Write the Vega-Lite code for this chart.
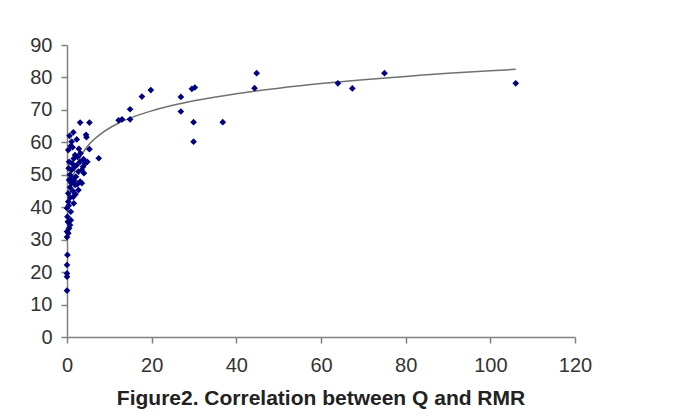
{
  "$schema": "https://vega.github.io/schema/vega-lite/v6.json",
  "autosize": {"type": "none"},
  "padding": {"left": 67, "top": 45, "right": 124, "bottom": 80},
  "width": 508,
  "height": 292,
  "background": "white",
  "config": {
    "view": {"stroke": null},
    "font": "Liberation Sans",
    "axis": {"grid": false, "domainColor": "#808080", "tickColor": "#808080", "labelColor": "#333333", "labelFont": "Liberation Sans", "labelFontSize": 20, "tickSize": 6, "domainWidth": 1.5, "tickWidth": 1.5, "labelOverlap": false, "labelFlush": false}
  },
  "title": {
    "text": "Figure2. Correlation between Q and RMR",
    "orient": "bottom",
    "anchor": "middle",
    "font": "Liberation Sans",
    "fontSize": 21,
    "fontWeight": "bold",
    "color": "#222222",
    "offset": 13
  },
  "datasets": {
    "pts": [
      {"Q": 106, "RMR": 78.2}, {"Q": 64, "RMR": 78.2}, {"Q": 67.4, "RMR": 76.6}, {"Q": 75, "RMR": 81.3},
      {"Q": 44.3, "RMR": 76.7}, {"Q": 44.8, "RMR": 81.3}, {"Q": 36.8, "RMR": 66.2}, {"Q": 29.9, "RMR": 60.2},
      {"Q": 29.9, "RMR": 66.2}, {"Q": 29.5, "RMR": 76.5}, {"Q": 30.2, "RMR": 76.9}, {"Q": 26.9, "RMR": 74.0},
      {"Q": 26.9, "RMR": 69.5}, {"Q": 19.8, "RMR": 76.1}, {"Q": 17.7, "RMR": 74.1}, {"Q": 14.9, "RMR": 70.2},
      {"Q": 14.9, "RMR": 67.1}, {"Q": 12.2, "RMR": 66.8}, {"Q": 13, "RMR": 67.1}, {"Q": 7.5, "RMR": 55.1},
      {"Q": 3.1, "RMR": 66.1}, {"Q": 5.3, "RMR": 66.1}, {"Q": 1.5, "RMR": 63.1}, {"Q": 4.5, "RMR": 62.3},
      {"Q": 4.6, "RMR": 61.6}, {"Q": 1.1, "RMR": 60.2}, {"Q": 2.3, "RMR": 60.9}, {"Q": 0.9, "RMR": 58.9},
      {"Q": 1.3, "RMR": 58.5}, {"Q": 5.3, "RMR": 57.9}, {"Q": 0.3, "RMR": 57.6}, {"Q": 3.2, "RMR": 56.6},
      {"Q": 1.9, "RMR": 56.1}, {"Q": 0.5, "RMR": 54.0}, {"Q": 3.9, "RMR": 54.8}, {"Q": 3.1, "RMR": 54.0},
      {"Q": 4.3, "RMR": 53.5}, {"Q": 2.3, "RMR": 53.0}, {"Q": 3.5, "RMR": 51.5}, {"Q": 1.1, "RMR": 51.5},
      {"Q": 2.7, "RMR": 51.0}, {"Q": 0.7, "RMR": 50.0}, {"Q": 2.1, "RMR": 49.4}, {"Q": 0.5, "RMR": 48.4},
      {"Q": 3.1, "RMR": 47.9}, {"Q": 3.5, "RMR": 47.4}, {"Q": 1.9, "RMR": 46.9}, {"Q": 0.7, "RMR": 46.1},
      {"Q": 2.7, "RMR": 45.3}, {"Q": 0.3, "RMR": 44.3}, {"Q": 1.5, "RMR": 43.2}, {"Q": 0.3, "RMR": 41.7},
      {"Q": 1.6, "RMR": 41.2}, {"Q": 0.0, "RMR": 39.7}, {"Q": 0.9, "RMR": 38.6}, {"Q": 0.1, "RMR": 37.1},
      {"Q": 0.2, "RMR": 35.5}, {"Q": 0.7, "RMR": 34.5}, {"Q": 0.0, "RMR": 32.5}, {"Q": 0.3, "RMR": 32.0},
      {"Q": 0.0, "RMR": 30.8}, {"Q": 0.1, "RMR": 25.3}, {"Q": 0.0, "RMR": 22.2}, {"Q": 0.0, "RMR": 19.6},
      {"Q": 0.0, "RMR": 18.6}, {"Q": 0.0, "RMR": 14.3},
      {"Q": 1.2, "RMR": 49.0}, {"Q": 1.8, "RMR": 52.5}, {"Q": 2.5, "RMR": 55.5}, {"Q": 1.0, "RMR": 47.5},
      {"Q": 1.4, "RMR": 45.0}, {"Q": 0.8, "RMR": 43.0}, {"Q": 0.4, "RMR": 40.5}, {"Q": 1.2, "RMR": 53.5},
      {"Q": 4.0, "RMR": 50.5}, {"Q": 2.8, "RMR": 58.0}, {"Q": 0.6, "RMR": 62.0}, {"Q": 1.7, "RMR": 48.2},
      {"Q": 0.9, "RMR": 36.0}, {"Q": 0.5, "RMR": 33.5}, {"Q": 2.0, "RMR": 44.0}, {"Q": 2.4, "RMR": 47.0},
      {"Q": 3.8, "RMR": 52.5}, {"Q": 4.8, "RMR": 54.0}, {"Q": 1.6, "RMR": 55.0}, {"Q": 0.4, "RMR": 52.0}
    ],
    "trend": [
      {"Q": 1, "RMR": 46.7}, {"Q": 2, "RMR": 52.0}, {"Q": 3, "RMR": 55.1}, {"Q": 5, "RMR": 59.0},
      {"Q": 8, "RMR": 62.6}, {"Q": 12, "RMR": 65.8}, {"Q": 16, "RMR": 68.0}, {"Q": 20, "RMR": 69.7},
      {"Q": 25, "RMR": 71.4}, {"Q": 30, "RMR": 72.8}, {"Q": 40, "RMR": 75.0}, {"Q": 50, "RMR": 76.7},
      {"Q": 60, "RMR": 78.1}, {"Q": 70, "RMR": 79.3}, {"Q": 80, "RMR": 80.3}, {"Q": 90, "RMR": 81.3},
      {"Q": 100, "RMR": 82.1}, {"Q": 106, "RMR": 82.5}
    ]
  },
  "encoding": {
    "x": {"field": "Q", "type": "quantitative", "scale": {"domain": [0, 120], "nice": false}, "axis": {"values": [0, 20, 40, 60, 80, 100, 120], "title": null, "labelPadding": 12}},
    "y": {"field": "RMR", "type": "quantitative", "scale": {"domain": [0, 90], "nice": false}, "axis": {"values": [0, 10, 20, 30, 40, 50, 60, 70, 80, 90], "title": null, "labelPadding": 9, "labelOverlap": false}}
  },
  "layer": [
    {
      "data": {"name": "trend"},
      "mark": {"type": "line", "color": "#707070", "strokeWidth": 1.5, "interpolate": "monotone"}
    },
    {
      "data": {"name": "pts"},
      "mark": {"type": "point", "shape": "diamond", "filled": true, "color": "#000080", "opacity": 1, "size": 45}
    }
  ]
}
